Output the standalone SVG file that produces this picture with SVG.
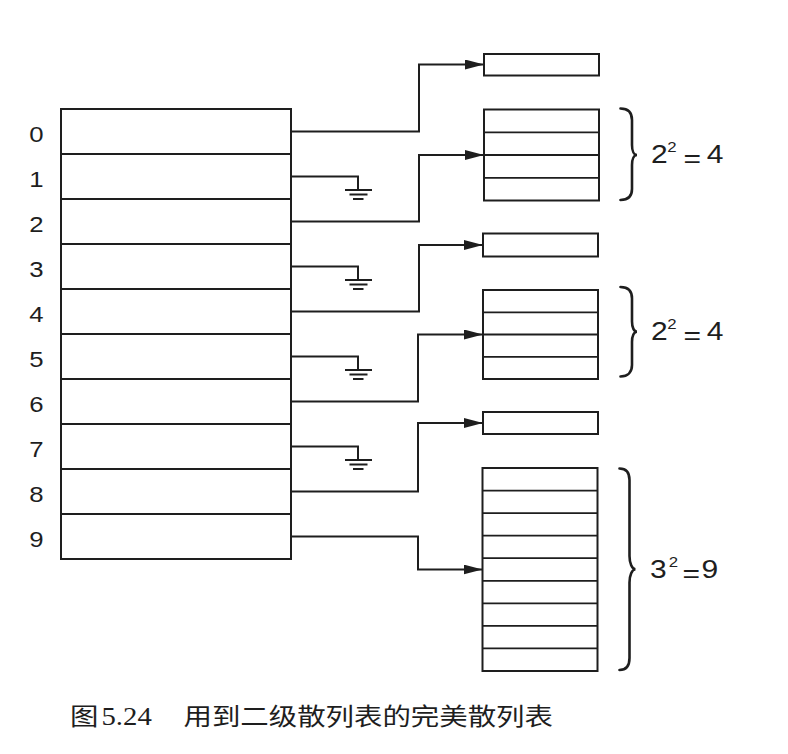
<svg xmlns="http://www.w3.org/2000/svg" width="788" height="754" viewBox="0 0 788 754">
<style>
.ln{fill:none;stroke:#1e1e1e;stroke-width:2}
.cell{fill:#fff;stroke:#1e1e1e;stroke-width:2}
.div{stroke:#1e1e1e;stroke-width:1.8}
.gnd{stroke:#1e1e1e;stroke-width:2.2}
.brace{fill:none;stroke:#1e1e1e;stroke-width:2.6;stroke-linecap:round}
.idx{font-family:"Liberation Sans",Arial,sans-serif;font-size:23px;fill:#1e1e1e;text-anchor:middle}
.lbl{font-family:"Liberation Sans",Arial,sans-serif;font-size:25px;fill:#1e1e1e}
.sup{font-size:14px}
.cap{font-family:"Liberation Serif","Noto Sans CJK SC",serif;font-size:25px;fill:#1e1e1e}
.capc{font-family:"Noto Sans CJK SC",sans-serif;font-size:23.7px;fill:#1e1e1e}
</style>
<defs>
<marker id="arr" markerUnits="userSpaceOnUse" viewBox="0 0 19 10" refX="19" refY="5" markerWidth="19" markerHeight="10" orient="auto">
<path d="M0 0 L19 5 L0 10 Z" fill="#1e1e1e"/>
</marker>
</defs>
<rect width="788" height="754" fill="#fff"/>

<g id="main-table">
<rect class="cell" x="61" y="109" width="230" height="450"/>
<path class="div" d="M61 154H291M61 199H291M61 244H291M61 289H291M61 334H291M61 379H291M61 424H291M61 469H291M61 514H291"/>
</g>

<g id="indices">
<text class="idx" transform="translate(36.3 142) scale(1.12 1)">0</text>
<text class="idx" transform="translate(36.3 187) scale(1.12 1)">1</text>
<text class="idx" transform="translate(36.3 232) scale(1.12 1)">2</text>
<text class="idx" transform="translate(36.3 277) scale(1.12 1)">3</text>
<text class="idx" transform="translate(36.3 322) scale(1.12 1)">4</text>
<text class="idx" transform="translate(36.3 367) scale(1.12 1)">5</text>
<text class="idx" transform="translate(36.3 412) scale(1.12 1)">6</text>
<text class="idx" transform="translate(36.3 457) scale(1.12 1)">7</text>
<text class="idx" transform="translate(36.3 502) scale(1.12 1)">8</text>
<text class="idx" transform="translate(36.3 547) scale(1.12 1)">9</text>
</g>

<g id="box0">
<rect class="cell" x="484" y="54" width="115" height="21.5"/>
</g>
<g id="box2">
<rect class="cell" x="484" y="109.5" width="115" height="91"/>
<path class="div" d="M484 132.3H599M484 155H599M484 177.8H599"/>
</g>
<g id="box4">
<rect class="cell" x="483" y="233.5" width="115" height="23"/>
</g>
<g id="box6">
<rect class="cell" x="483" y="290" width="115" height="89"/>
<path class="div" d="M483 312.3H598M483 334.5H598M483 356.8H598"/>
</g>
<g id="box8">
<rect class="cell" x="483" y="412" width="115" height="22"/>
</g>
<g id="box9">
<rect class="cell" x="482.5" y="468" width="115" height="203"/>
<path class="div" d="M482.5 490.6H597.5M482.5 513.1H597.5M482.5 535.7H597.5M482.5 558.2H597.5M482.5 580.8H597.5M482.5 603.3H597.5M482.5 625.9H597.5M482.5 648.4H597.5"/>
</g>

<g id="connectors">
<path class="ln" d="M291 131.5H419V64.5H484" marker-end="url(#arr)"/>
<path class="ln" d="M291 221.5H419V155H484" marker-end="url(#arr)"/>
<path class="ln" d="M291 311.5H419V245H483" marker-end="url(#arr)"/>
<path class="ln" d="M291 401.5H418V334.5H483" marker-end="url(#arr)"/>
<path class="ln" d="M291 491.5H418V423H483" marker-end="url(#arr)"/>
<path class="ln" d="M291 536.5H418V569.5H482.5" marker-end="url(#arr)"/>
<path class="ln" d="M291 176.5H358V190"/>
<path class="ln" d="M291 266.5H358V280"/>
<path class="ln" d="M291 356.5H358V370"/>
<path class="ln" d="M291 446.5H358V460"/>
</g>

<g id="grounds">
<path class="gnd" d="M345 190H372M349.5 194.5H367.5M353 199H363.5"/>
<path class="gnd" d="M345 280H372M349.5 284.5H367.5M353 289H363.5"/>
<path class="gnd" d="M345 370H372M349.5 374.5H367.5M353 379H363.5"/>
<path class="gnd" d="M345 460H372M349.5 464.5H367.5M353 469H363.5"/>
</g>

<g id="brace1">
<path class="brace" d="M620.5 108.5C628 108.5 632 112 632 120V145C632 151 634 155 637 155C634 155 632 159 632 165V189C632 196 628 200 620.5 200"/>
<text class="lbl" transform="translate(651 163.3) scale(1.2 1)"><tspan x="0" y="0">2</tspan><tspan class="sup" x="13.6" y="-11.5">2</tspan><tspan x="27.1" y="4">=</tspan><tspan x="46.4" y="0">4</tspan></text>
</g>
<g id="brace2">
<path class="brace" d="M620.5 287C628 287 632 290.5 632 298.5V321.5C632 327.5 634 331.7 637 331.7C634 331.7 632 335.9 632 341.9V365C632 372 628 376.5 620.5 376.5"/>
<text class="lbl" transform="translate(651 340) scale(1.2 1)"><tspan x="0" y="0">2</tspan><tspan class="sup" x="13.6" y="-11.5">2</tspan><tspan x="27.1" y="4">=</tspan><tspan x="46.4" y="0">4</tspan></text>
</g>
<g id="brace3">
<path class="brace" d="M619.5 468.5C626 468.5 629.5 472 629.5 480V556C629.5 563 632 569.3 635.5 569.3C632 569.3 629.5 575.5 629.5 582.5V658C629.5 666 626 670 619.5 670"/>
<text class="lbl" transform="translate(650 578.3) scale(1.2 1)"><tspan x="0" y="0">3</tspan><tspan class="sup" x="15.6" y="-11.6">2</tspan><tspan x="27.1" y="4">=</tspan><tspan x="42.9" y="0">9</tspan></text>
</g>

<g id="caption">
<text class="capc" transform="translate(70 725) scale(1.2 1)">图</text>
<text class="cap" transform="translate(101.5 725) scale(1.15 1)">5.24</text>
<text class="capc" transform="translate(183.5 725) scale(1.2 1)">用到二级散列表的完美散列表</text>
</g>
</svg>
